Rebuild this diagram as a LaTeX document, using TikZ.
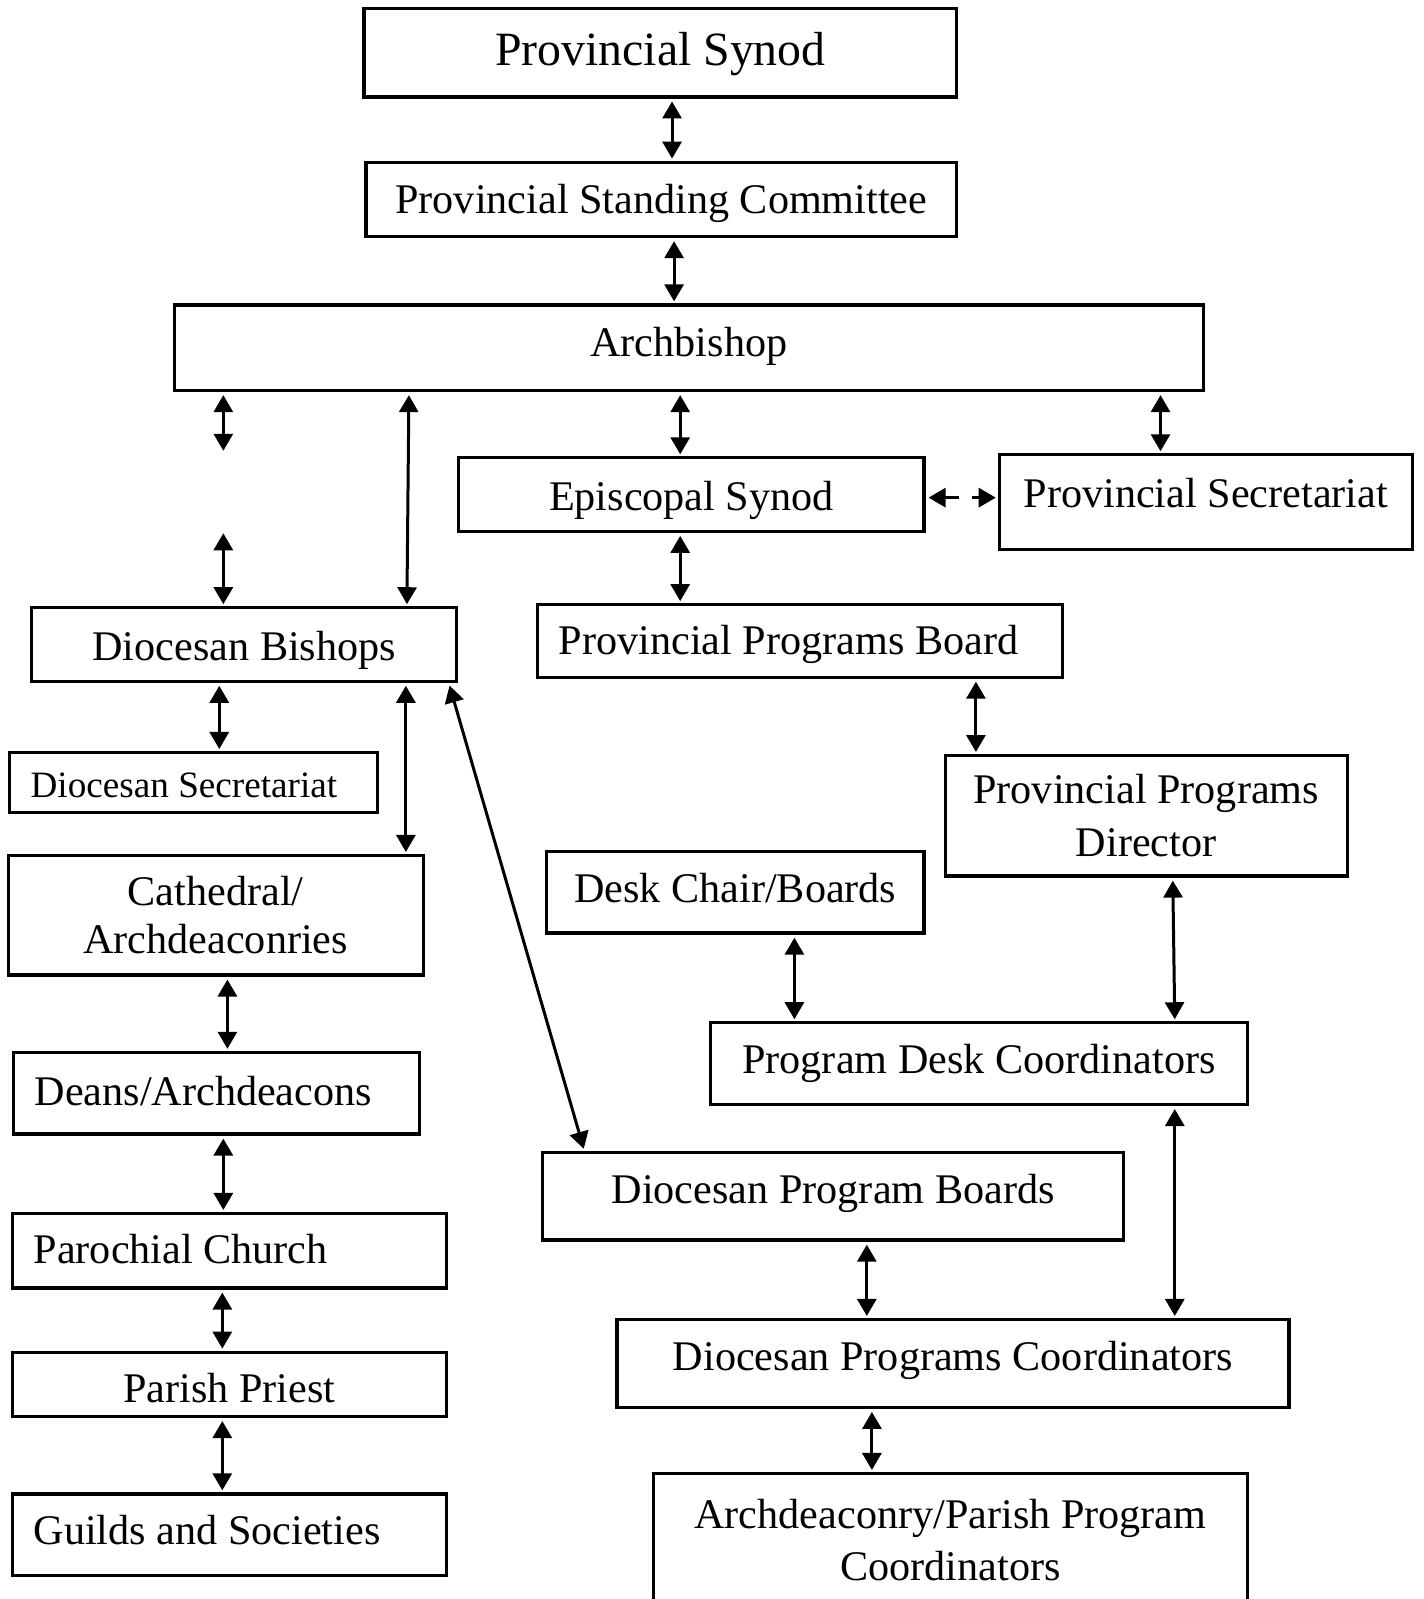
\documentclass[tikz,border=0pt]{standalone}
\usepackage{fontspec}
\setmainfont{Liberation Serif}
\usepackage{tikz}
\usetikzlibrary{positioning}
\usetikzlibrary{arrows.meta}

\tikzset{
  frame/.style={draw, line width=1.6pt, inner sep=0pt, align=center,
    font=\fontsize{21.1}{26.3}\selectfont},
  box/.style={frame, text height=19pt, text depth=5.2pt},
  leftbox/.style={box, align=flush left, inner xsep=10.7pt},
  link/.style={line width=1.5pt,
    {Triangle[length=8.5pt,width=9.5pt]}-{Triangle[length=8.5pt,width=9.5pt]},
    shorten <=1.5pt, shorten >=1pt},
  dashlink/.style={link, dash pattern=on 7pt off 6.5pt}
}

\begin{document}
\begin{tikzpicture}[x=0.51pt, y=-0.51pt]
      \useasboundingbox (0,0) rectangle (1396,1568);

      % Top: synod, standing committee and archbishop
      \node[box, font=\fontsize{23.9}{28}\selectfont, text height=21pt, text depth=5.35pt, minimum width=296.3pt, minimum height=44.4pt] (synod) at (647.5,51.5) {\raisebox{1.4pt}{Provincial Synod}};
      \node[box, minimum width=295.3pt, minimum height=37.2pt] (psc) at (648.5,195.5) {Provincial Standing Committee};
      \node[box, minimum width=514.6pt, minimum height=42.8pt] (arch) at (675.5,341) {\raisebox{2.3pt}{Archbishop}};

      % Provincial side
      \node[box, minimum width=232.6pt, minimum height=36.7pt] (esyn) at (678,485) {\raisebox{-0.9pt}{Episcopal Synod}};
      \node[box, minimum width=206.6pt, minimum height=47.4pt] (psec) at (1182.5,492.5) {\raisebox{4.5pt}{Provincial Secretariat}};
      \node[leftbox, text width=241.2pt, minimum height=36.2pt] (ppb) at (784.5,628.5) {Provincial Programs Board};
      \node[frame, minimum width=200.9pt, minimum height=60.2pt] (ppd) at (1124,800) {Provincial Programs\\Director};
      \node[box, minimum width=188.7pt, minimum height=40.8pt] (desk) at (721,875) {\raisebox{1.8pt}{Desk Chair/Boards}};
      \node[box, minimum width=268.3pt, minimum height=40.8pt] (pdc) at (960,1043) {\raisebox{1.9pt}{Program Desk Coordinators}};
      \node[box, minimum width=290.7pt, minimum height=43.9pt] (dpb) at (817,1173) {\raisebox{3.5pt}{Diocesan Program Boards}};
      \node[box, minimum width=336.1pt, minimum height=43.9pt] (dpc) at (934.5,1337) {\raisebox{3.5pt}{Diocesan Programs Coordinators}};
      \node[frame, minimum width=296.8pt, minimum height=66.3pt] (archp) at (932,1510) {Archdeaconry/Parish Program\\Coordinators};

      % Diocesan side
      \node[box, minimum width=212.7pt, minimum height=36.7pt] (dbish) at (239.5,632) {\raisebox{-1.3pt}{Diocesan Bishops}};
      \node[leftbox, font=\fontsize{18.6}{22}\selectfont, text height=16.7pt, text depth=4.5pt, text width=162.7pt, minimum height=30.1pt] (dsec) at (189.5,767.5) {\raisebox{-1.1pt}{Diocesan Secretariat}};
      \node[frame, font=\fontsize{21.1}{24}\selectfont, minimum width=207.6pt, minimum height=59.7pt] (cath) at (211.5,897.5) {Cathedral/\\Archdeaconries};
      \node[leftbox, text width=181.6pt, minimum height=40.8pt] (deans) at (212,1072) {\raisebox{1pt}{Deans/Archdeacons}};
      \node[leftbox, text width=195.8pt, minimum height=37.2pt] (paro) at (225,1226.5) {\raisebox{0.5pt}{Parochial Church}};
      \node[box, minimum width=217.3pt, minimum height=32.1pt] (priest) at (225,1357.5) {\raisebox{-2.2pt}{Parish Priest}};
      \node[leftbox, text width=195.8pt, minimum height=40.8pt] (guilds) at (225,1505) {\raisebox{2pt}{Guilds and Societies}};

      % Loose ends between archbishop and bishops
      \coordinate (gapA) at (219,444);
      \coordinate (gapB) at (219,520);

      % Connectors
      \draw[link] (synod.south -| 659,0) -- (psc.north -| 659,0);
      \draw[link] (psc.south -| 661,0) -- (arch.north -| 661,0);
      \draw[link] (arch.south -| 219,0) -- (gapA);
      \draw[link] (gapB) -- (dbish.north -| 219,0);
      \draw[link] (arch.south -| 401,0) -- (dbish.north -| 399,0);
      \draw[link] (arch.south -| 667,0) -- (esyn.north -| 667,0);
      \draw[link] (arch.south -| 1138,0) -- (psec.north -| 1138,0);
      \draw[dashlink] (esyn.east |- 0,488) -- (psec.west |- 0,488);
      \draw[link] (esyn.south -| 667,0) -- (ppb.north -| 667,0);
      \draw[link] (ppb.south -| 957,0) -- (ppd.north -| 957,0);
      \draw[link] (dbish.south -| 215,0) -- (dsec.north -| 215,0);
      \draw[link] (dbish.south -| 398,0) -- (cath.north -| 398,0);
      \draw[link] (dbish.south -| 440,0) -- (dpb.north -| 573,0);
      \draw[link] (ppd.south -| 1150,0) -- (pdc.north -| 1152,0);
      \draw[link] (desk.south -| 779,0) -- (pdc.north -| 779,0);
      \draw[link] (cath.south -| 223,0) -- (deans.north -| 223,0);
      \draw[link] (deans.south -| 219,0) -- (paro.north -| 219,0);
      \draw[link] (paro.south -| 218,0) -- (priest.north -| 218,0);
      \draw[link] (priest.south -| 218,0) -- (guilds.north -| 218,0);
      \draw[link] (pdc.south -| 1152,0) -- (dpc.north -| 1152,0);
      \draw[link] (dpb.south -| 850,0) -- (dpc.north -| 850,0);
      \draw[link] (dpc.south -| 855,0) -- (archp.north -| 855,0);
    \end{tikzpicture}
\end{document}
